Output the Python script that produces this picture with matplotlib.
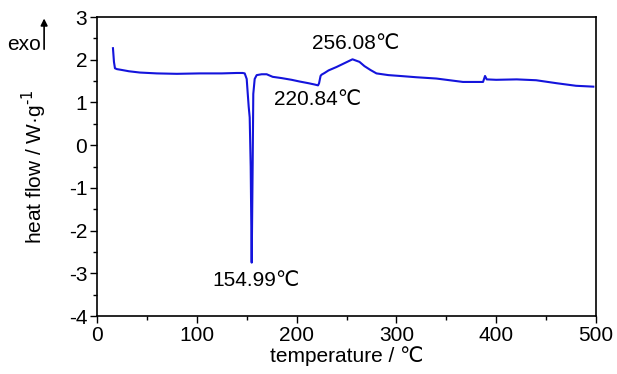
import matplotlib
matplotlib.use("Agg")
import matplotlib.pyplot as plt
import numpy as np
from matplotlib import font_manager

names = {f.name for f in font_manager.fontManager.ttflist}
fams = [n for n in ['Liberation Sans Narrow', 'Liberation Sans', 'DejaVu Sans'] if n in names]
plt.rcParams['font.family'] = fams
plt.rcParams['axes.unicode_minus'] = False

# DSC curve
temperature = [16, 17, 18, 20, 25, 32, 43, 60, 80, 103, 125, 140, 146, 148, 150, 151, 152, 153,
               154, 155, 156, 156.6, 158, 160, 165, 170, 176, 185, 195, 203, 212, 218, 221.5, 222.5,
               224, 225, 228, 232, 240, 248, 256, 263, 268, 274, 280, 292, 303.6, 320, 340, 366.7,
               378, 386.8, 388.8, 390.5, 400, 420.5, 440, 460.6, 480, 497.3]
heat_flow = [2.27, 1.95, 1.80, 1.78, 1.76, 1.73, 1.70, 1.68, 1.67, 1.68, 1.68, 1.69, 1.69, 1.68, 1.55, 1.22, 0.9, 0.65,
             -0.5, -2.75, -0.4, 1.2, 1.55, 1.64, 1.66, 1.66, 1.60, 1.57, 1.53, 1.49, 1.45, 1.42, 1.40, 1.45,
             1.62, 1.65, 1.69, 1.75, 1.83, 1.92, 2.01, 1.95, 1.85, 1.76, 1.68, 1.64, 1.62, 1.59, 1.56, 1.48,
             1.48, 1.48, 1.62, 1.54, 1.53, 1.54, 1.52, 1.45, 1.39, 1.37]

x_ticks = [0, 100, 200, 300, 400, 500]
y_ticks = [3, 2, 1, 0, -1, -2, -3, -4]

annotations = [
    ("154.99℃", 159, -3.16),
    ("220.84℃", 221, 1.06),
    ("256.08℃", 259, 2.39),
]

fig = plt.figure(figsize=(6.17, 3.74), dpi=100)
ax = fig.add_axes([0.1572, 0.155, 0.8088, 0.7995])
ax.plot(temperature, heat_flow, color='#1414dc', lw=1.5)

ax.set_xlim(0, 500)
ax.set_ylim(-4, 3)
ax.set_xticks(x_ticks)
ax.set_yticks(y_ticks)
ax.set_xticks(np.arange(50, 500, 100), minor=True)
ax.set_yticks(np.arange(-3.5, 3, 1), minor=True)
ax.tick_params(which='major', direction='out', length=5, width=1.0, labelsize=15, pad=2)
ax.tick_params(which='minor', direction='out', length=3, width=1.0)
for s in ax.spines.values():
    s.set_linewidth(1.2)

ax.set_xlabel('temperature / ℃', fontsize=15, labelpad=1)
ax.set_ylabel(r'heat flow / W·g$^{\text{-}1}$', fontsize=15, labelpad=14)

for txt, x, y in annotations:
    ax.text(x, y, txt, fontsize=15, ha='center', va='center')

fig.text(0.039, 0.88, 'exo', fontsize=15, ha='center', va='center')
fig.add_artist(matplotlib.patches.FancyArrowPatch((0.0715, 0.861), (0.0715, 0.958),
               transform=fig.transFigure, arrowstyle='-|>', mutation_scale=10, lw=1.2, color='black'))

fig.savefig('out.png', dpi=100)
